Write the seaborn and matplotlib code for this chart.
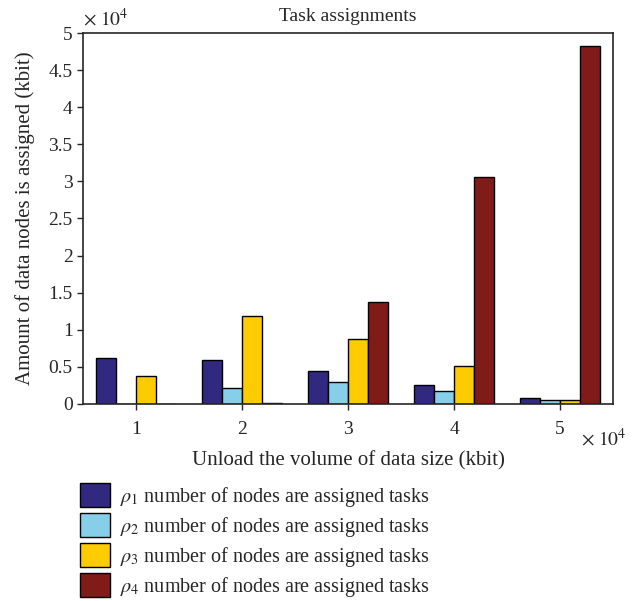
import numpy as np
import pandas as pd
import seaborn as sns
import matplotlib.pyplot as plt
from matplotlib.patches import Patch

# unload volume (x10^4 kbit) and assigned amount per node group (x10^4 kbit)
volumes = [1, 2, 3, 4, 5]
rho1 = [0.62, 0.59, 0.44, 0.26, 0.08]
rho2 = [0.00, 0.22, 0.29, 0.17, 0.05]
rho3 = [0.38, 1.19, 0.88, 0.51, 0.05]
rho4 = [0.005, 0.01, 1.38, 3.06, 4.83]
series_names = [r"$\rho_1$", r"$\rho_2$", r"$\rho_3$", r"$\rho_4$"]
colors = ["#31287f", "#87cfe9", "#fccb00", "#801c18"]

rows = []
for name, vals in zip(series_names, [rho1, rho2, rho3, rho4]):
    for v, a in zip(volumes, vals):
        rows.append({"volume": v, "amount": a, "series": name})
df = pd.DataFrame(rows)

sns.set_style("ticks")
plt.rcParams["font.family"] = ["Liberation Serif", "DejaVu Serif"]
plt.rcParams["mathtext.fontset"] = "stix"

fig = plt.figure(figsize=(6.44, 6.01), dpi=100)
ax = fig.add_axes([0.129, 0.328, 0.823, 0.617])

sns.barplot(data=df, x="volume", y="amount", hue="series",
            palette=dict(zip(series_names, colors)), width=0.75, saturation=1,
            edgecolor="black", linewidth=1.0, ax=ax, legend=False)

ax.set_ylim(0, 5)
ax.set_xlim(-0.5, 4.5)
ax.set_yticks(np.arange(0, 5.01, 0.5))
ax.set_yticklabels(["0", "0.5", "1", "1.5", "2", "2.5", "3", "3.5", "4", "4.5", "5"])
ax.tick_params(labelsize=14, direction="out", length=4, width=1)
ax.tick_params(axis="x", pad=8)
for s in ax.spines.values():
    s.set_visible(True)
    s.set_linewidth(1.2)
ax.set_title("Task assignments", fontsize=14, pad=9)
ax.set_xlabel("Unload the volume of data size (kbit)", fontsize=15, labelpad=10)
ax.set_ylabel("Amount of data nodes is assigned (kbit)", fontsize=15, labelpad=10)
ax.text(0.0, 1.01, r"$\times\ 10^4$", transform=ax.transAxes, fontsize=14,
        ha="left", va="bottom")
ax.text(0.94, -0.065, r"$\times\ 10^4$", transform=ax.transAxes, fontsize=14,
        ha="left", va="top")

handles = [Patch(facecolor=c, edgecolor="black", linewidth=1.0) for c in colors]
labels = [n + " number of nodes are assigned tasks" for n in series_names]
fig.legend(handles, labels, loc="upper left", bbox_to_anchor=(0.112, 0.21),
           frameon=False, fontsize=14.5, handlelength=1.5, handleheight=1.5,
           handletextpad=0.5, labelspacing=0.2, borderaxespad=0)

fig.savefig("out.png", dpi=100)
